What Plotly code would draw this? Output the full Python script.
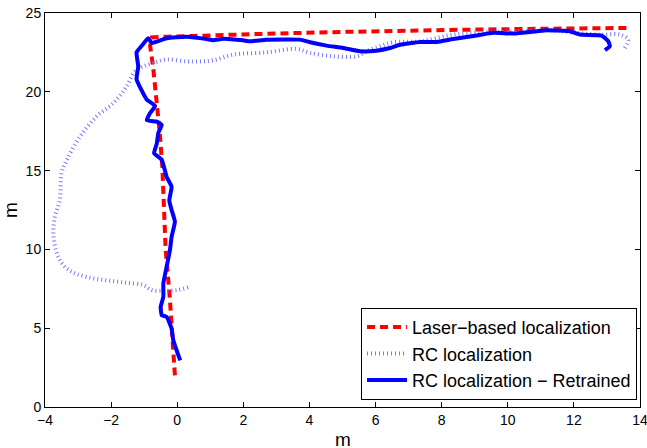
import plotly.graph_objects as go

# Laser-based localization (red dashed)
laser_x = [-0.07, -0.15, -0.22, -0.35, -0.42, -0.45, -0.53, -0.62, -0.73, -0.82, -0.77, -0.3, 1.0, 3.0, 5.0, 7.0, 9.0, 11.0, 13.0, 13.7]
laser_y = [2.0, 4.7, 6.8, 10.0, 13.1, 15.2, 17.4, 19.5, 21.6, 22.9, 23.45, 23.5, 23.6, 23.7, 23.8, 23.9, 23.95, 24.0, 24.05, 24.05]

# RC localization (dotted)
rc_x = [0.33, -0.01, -0.42, -0.77, -1.03, -1.53, -2.03, -2.54, -3.04, -3.34, -3.55, -3.67, -3.75, -3.70, -3.55, -3.50, -3.34, -2.94, -2.44, -1.93, -1.53, -1.28, -1.03, -0.72, -0.32, 0.29, 0.69, 1.09, 1.70, 2.70, 3.61, 4.02, 4.72, 5.43, 5.73, 6.13, 6.54, 7.34, 8.35, 9.36, 10.37, 11.38, 12.08, 12.89, 13.39, 13.64, 13.54]
rc_y = [7.59, 7.42, 7.38, 7.42, 7.74, 7.88, 8.01, 8.16, 8.44, 8.80, 9.33, 9.96, 11.02, 12.08, 13.14, 14.84, 15.68, 17.16, 18.44, 19.29, 20.34, 21.30, 21.61, 21.83, 22.04, 21.93, 21.93, 22.00, 22.36, 22.50, 22.72, 22.47, 22.25, 22.25, 22.57, 22.89, 23.14, 23.20, 23.63, 23.78, 23.84, 23.90, 23.74, 23.63, 23.63, 23.31, 22.78]

# RC localization - Retrained (solid)
rt_x = [0.09, -0.12, -0.17, -0.32, -0.47, -0.50, -0.42, -0.42, -0.32, -0.22, -0.17, -0.07, -0.17, -0.24, -0.17, -0.32, -0.47, -0.70, -0.62, -0.57, -0.47, -0.62, -0.92, -0.82, -0.67, -0.92, -1.08, -1.23, -1.18, -1.23, -1.08, -0.88, -0.77, -0.32, 0.29, 0.89, 1.09, 1.39, 1.99, 2.20, 2.70, 3.71, 4.02, 4.52, 5.02, 5.53, 6.03, 6.44, 6.74, 7.34, 7.85, 8.35, 9.06, 9.56, 10.17, 10.87, 11.18, 11.88, 12.18, 12.84, 13.04, 13.09, 12.94]
rt_y = [2.96, 4.24, 4.98, 5.72, 5.83, 6.36, 6.99, 7.84, 8.90, 9.96, 10.80, 11.76, 12.50, 13.10, 13.98, 14.60, 15.70, 16.10, 16.70, 17.40, 17.90, 18.10, 18.20, 18.65, 19.10, 19.50, 20.10, 20.80, 21.60, 22.50, 22.90, 23.40, 23.10, 23.40, 23.50, 23.35, 23.27, 23.37, 23.27, 23.20, 23.31, 23.31, 23.14, 22.93, 22.78, 22.57, 22.61, 22.78, 22.99, 23.16, 23.16, 23.35, 23.57, 23.74, 23.70, 23.84, 23.90, 23.84, 23.63, 23.57, 23.20, 22.89, 22.64]

x_ticks = [-4, -2, 0, 2, 4, 6, 8, 10, 12, 14]
y_ticks = [0, 5, 10, 15, 20, 25]

FONT = "Liberation Sans, Arial, Helvetica"

fig = go.Figure()
fig.add_trace(go.Scatter(x=laser_x, y=laser_y, mode="lines", name="Laser−based localization",
                         line=dict(color="rgb(255,0,0)", width=4, dash="8px,5px")))
fig.add_trace(go.Scatter(x=rc_x, y=rc_y, mode="lines", name="RC localization",
                         line=dict(color="rgb(120,120,255)", width=4, dash="1px,3px", shape="spline")))
fig.add_trace(go.Scatter(x=rt_x, y=rt_y, mode="lines", name="RC localization − Retrained",
                         line=dict(color="rgb(0,0,255)", width=4, shape="spline", smoothing=0.4)))

axis_common = dict(showline=True, linecolor="black", linewidth=1, mirror="ticks",
                   ticks="inside", ticklen=5, tickcolor="black", showgrid=False, zeroline=False,
                   ticklabeloverflow="allow", automargin=False,
                   tickfont=dict(family=FONT, size=14, color="black"))
fig.update_xaxes(range=[-4, 14], tickvals=x_ticks, ticklabelstandoff=0, **axis_common)
fig.update_yaxes(range=[0, 25], tickvals=y_ticks, **axis_common,
                 title=dict(text="m", font=dict(family=FONT, size=19, color="black"), standoff=6))

fig.add_annotation(text="m", x=0.5, xref="paper", y=0, yref="paper", yanchor="top",
                   yshift=-20, showarrow=False, font=dict(family=FONT, size=19, color="black"))

fig.update_layout(
    width=647, height=448,
    margin=dict(l=45, r=7, t=13, b=41, autoexpand=False),
    paper_bgcolor="white", plot_bgcolor="white",
    font=dict(family=FONT, color="black"),
    hovermode=False,
    legend=dict(x=0.995, xanchor="right", y=0.018, yanchor="bottom",
                bordercolor="black", borderwidth=1, bgcolor="white",
                font=dict(size=18), tracegroupgap=0, itemwidth=40),
)
fig.write_html("out.html", config={"displayModeBar": False},
               post_script="document.body.style.margin='0';document.body.style.overflow='hidden';")
